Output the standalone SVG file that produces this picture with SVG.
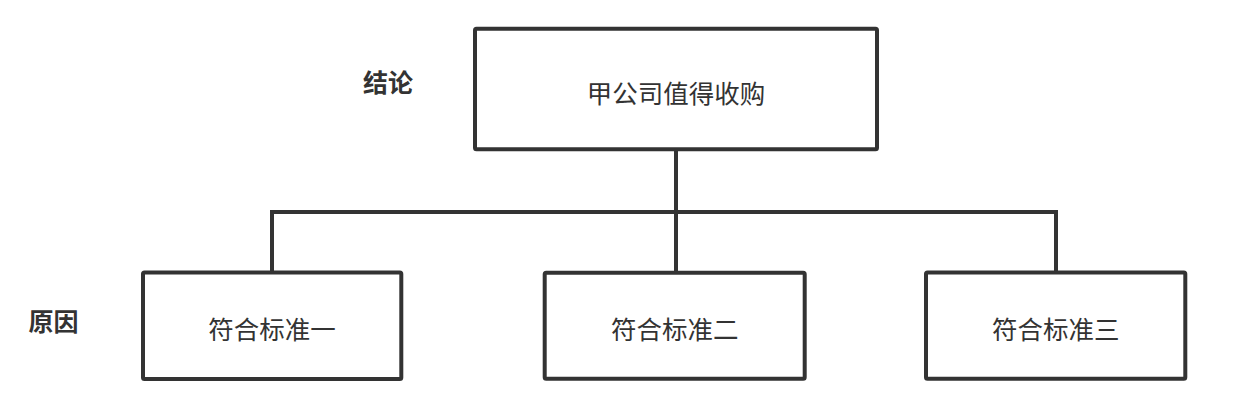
<svg xmlns="http://www.w3.org/2000/svg" width="1240" height="404" viewBox="0 0 1240 404">
<style>
.box{fill:#fff;stroke:#333;stroke-width:4;}
.conn{fill:none;stroke:#333;stroke-width:4;}
.t{font-family:"Noto Sans CJK SC","Noto Sans",sans-serif;font-size:25.5px;fill:#333;text-anchor:middle;dominant-baseline:central;}
.lbl{font-family:"Noto Sans CJK SC","Noto Sans",sans-serif;font-size:25px;font-weight:bold;fill:#333;text-anchor:middle;dominant-baseline:central;}
</style>
<rect width="1240" height="404" fill="#fff"/>
<g id="connectors">
<path class="conn" d="M676 149V272"/>
<path class="conn" d="M272 272V212H1056V272"/>
</g>
<g id="label-conclusion"><text class="lbl" x="388" y="81">结论</text></g>
<g id="label-reason"><text class="lbl" x="53.5" y="319.5">原因</text></g>
<g id="node-top">
<rect class="box" x="475" y="28.7" width="402" height="120.6" rx="1.5"/>
<text class="t" x="676" y="91">甲公司值得收购</text>
</g>
<g id="node-1">
<rect class="box" x="143" y="272.5" width="258.3" height="106.5" rx="1.5"/>
<text class="t" x="272" y="327">符合标准一</text>
</g>
<g id="node-2">
<rect class="box" x="544.7" y="272.8" width="260" height="106" rx="1.5"/>
<text class="t" x="674.7" y="327">符合标准二</text>
</g>
<g id="node-3">
<rect class="box" x="926" y="272.5" width="259.3" height="106.2" rx="1.5"/>
<text class="t" x="1055.7" y="327">符合标准三</text>
</g>
</svg>
